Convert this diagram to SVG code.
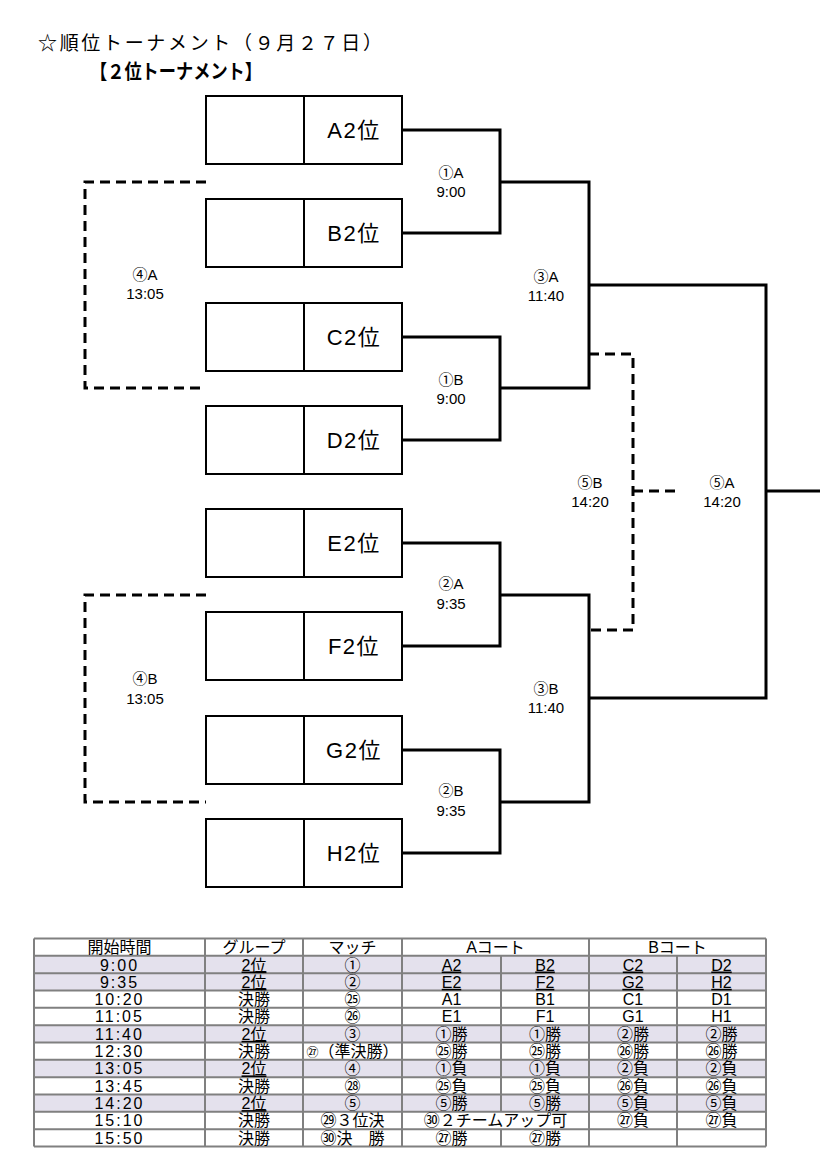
<svg xmlns="http://www.w3.org/2000/svg" width="833" height="1170" viewBox="0 0 833 1170">
<style>
text{font-family:"Liberation Sans","Noto Sans CJK JP",sans-serif;fill:#000}
.title{font-size:19px}
.sub{font-size:20px;font-weight:bold;font-family:"Noto Sans CJK JP",sans-serif}
.box{fill:#fff;stroke:#000;stroke-width:2}
.bl{font-size:22px;text-anchor:middle;letter-spacing:1.5px}
.lab{font-size:15px;text-anchor:middle}
.solid{fill:none;stroke:#000;stroke-width:3}
.dash{fill:none;stroke:#000;stroke-width:3;stroke-dasharray:10 6}
.grid{stroke:#808080;stroke-width:2;fill:none}
.shade{fill:#E4E1ED}
.t{font-size:16px;text-anchor:middle}
.n{letter-spacing:2px}
.u{text-decoration:underline}
</style>
<defs>
<g id="boxshape">
<rect class="box" x="206" y="0" width="196" height="68"/>
<line x1="304" y1="0" x2="304" y2="68" stroke="#000" stroke-width="2"/>
</g>
</defs>

<g id="title">
<text class="title" x="38" y="50" textLength="344" lengthAdjust="spacing">☆順位トーナメント（９月２７日）</text>
<text class="sub" x="90" y="79" textLength="172" lengthAdjust="spacingAndGlyphs">【２位トーナメント】</text>
</g>

<g id="connectors">
<path class="solid" d="M402,130 H500 V233 H402 M500,182 H589 V388 H500 M402,337 H500 V440 H402"/>
<path class="solid" d="M402,543 H500 V646 H402 M500,595 H589 V802 H500 M402,750 H500 V853 H402"/>
<path class="solid" d="M589,285 H766 V698 H589 M766,491 H820"/>
<path class="dash" d="M206,182 H85 V388 H206"/>
<path class="dash" d="M206,595 H85 V802 H206"/>
<path class="dash" d="M589,354 H633 V630 H589"/>
<path class="dash" d="M633,491 H678"/>
</g>

<g id="node-A2"><use href="#boxshape" y="96"/><text class="bl" x="354" y="138">A2位</text></g>
<g id="node-B2"><use href="#boxshape" y="199"/><text class="bl" x="354" y="241">B2位</text></g>
<g id="node-C2"><use href="#boxshape" y="303"/><text class="bl" x="354" y="345">C2位</text></g>
<g id="node-D2"><use href="#boxshape" y="406"/><text class="bl" x="354" y="448">D2位</text></g>
<g id="node-E2"><use href="#boxshape" y="509"/><text class="bl" x="354" y="551">E2位</text></g>
<g id="node-F2"><use href="#boxshape" y="612"/><text class="bl" x="354" y="654">F2位</text></g>
<g id="node-G2"><use href="#boxshape" y="716"/><text class="bl" x="354" y="758">G2位</text></g>
<g id="node-H2"><use href="#boxshape" y="819"/><text class="bl" x="354" y="861">H2位</text></g>

<g id="match-1A"><text class="lab" x="451" y="178">①A</text><text class="lab" x="451" y="197">9:00</text></g>
<g id="match-1B"><text class="lab" x="451" y="385">①B</text><text class="lab" x="451" y="404">9:00</text></g>
<g id="match-3A"><text class="lab" x="546" y="282">③A</text><text class="lab" x="546" y="301">11:40</text></g>
<g id="match-4A"><text class="lab" x="145" y="280">④A</text><text class="lab" x="145" y="299">13:05</text></g>
<g id="match-5B"><text class="lab" x="590" y="488">⑤B</text><text class="lab" x="590" y="507">14:20</text></g>
<g id="match-5A"><text class="lab" x="722" y="488">⑤A</text><text class="lab" x="722" y="507">14:20</text></g>
<g id="match-2A"><text class="lab" x="451" y="589">②A</text><text class="lab" x="451" y="609">9:35</text></g>
<g id="match-3B"><text class="lab" x="546" y="694">③B</text><text class="lab" x="546" y="713">11:40</text></g>
<g id="match-4B"><text class="lab" x="145" y="684">④B</text><text class="lab" x="145" y="704">13:05</text></g>
<g id="match-2B"><text class="lab" x="451" y="796">②B</text><text class="lab" x="451" y="816">9:35</text></g>

<g id="table">
<rect class="shade" x="34" y="955.8" width="732" height="34.7"/>
<rect class="shade" x="34" y="1025.2" width="732" height="17.3"/>
<rect class="shade" x="34" y="1059.8" width="732" height="17.3"/>
<rect class="shade" x="34" y="1094.5" width="732" height="17.3"/>
<path class="grid" d="M34,938.5 H766 M34,955.8 H766 M34,973.2 H766 M34,990.5 H766 M34,1007.8 H766 M34,1025.2 H766 M34,1042.5 H766 M34,1059.8 H766 M34,1077.2 H766 M34,1094.5 H766 M34,1111.8 H766 M34,1129.2 H766 M34,1146.5 H766"/>
<path class="grid" d="M34,938.5 V1146.5 M205,938.5 V1146.5 M303,938.5 V1146.5 M402,938.5 V1146.5 M589,938.5 V1146.5 M766,938.5 V1146.5 M501,955.8 V1111.8 M501,1129.2 V1146.5 M677,955.8 V1146.5"/>

<text class="t" x="119.5" y="953">開始時間</text>
<text class="t" x="254" y="953">グループ</text>
<text class="t" x="352.5" y="953">マッチ</text>
<text class="t" x="495.5" y="953">Aコート</text>
<text class="t" x="677.5" y="953">Bコート</text>

<text class="t n" x="119.5" y="970.5">9:00</text><text class="t u" x="254" y="970.5">2位</text><text class="t" x="352.5" y="970.5">①</text>
<text class="t u" x="451.5" y="970.5">A2</text><text class="t u" x="545" y="970.5">B2</text><text class="t u" x="633" y="970.5">C2</text><text class="t u" x="721.5" y="970.5">D2</text>

<text class="t n" x="119.5" y="987.8">9:35</text><text class="t u" x="254" y="987.8">2位</text><text class="t" x="352.5" y="987.8">②</text>
<text class="t u" x="451.5" y="987.8">E2</text><text class="t u" x="545" y="987.8">F2</text><text class="t u" x="633" y="987.8">G2</text><text class="t u" x="721.5" y="987.8">H2</text>

<text class="t n" x="119.5" y="1005.1">10:20</text><text class="t" x="254" y="1005.1">決勝</text><text class="t" x="352.5" y="1005.1">㉕</text>
<text class="t" x="451.5" y="1005.1">A1</text><text class="t" x="545" y="1005.1">B1</text><text class="t" x="633" y="1005.1">C1</text><text class="t" x="721.5" y="1005.1">D1</text>

<text class="t n" x="119.5" y="1022.4">11:05</text><text class="t" x="254" y="1022.4">決勝</text><text class="t" x="352.5" y="1022.4">㉖</text>
<text class="t" x="451.5" y="1022.4">E1</text><text class="t" x="545" y="1022.4">F1</text><text class="t" x="633" y="1022.4">G1</text><text class="t" x="721.5" y="1022.4">H1</text>

<text class="t n" x="119.5" y="1039.8">11:40</text><text class="t u" x="254" y="1039.8">2位</text><text class="t" x="352.5" y="1039.8">③</text>
<text class="t" x="451.5" y="1039.8">①勝</text><text class="t" x="545" y="1039.8">①勝</text><text class="t" x="633" y="1039.8">②勝</text><text class="t" x="721.5" y="1039.8">②勝</text>

<text class="t n" x="119.5" y="1057.1">12:30</text><text class="t" x="254" y="1057.1">決勝</text><text class="t" x="352.5" y="1057.1"><tspan font-size="12">㉗</tspan>（準決勝）</text>
<text class="t" x="451.5" y="1057.1">㉕勝</text><text class="t" x="545" y="1057.1">㉕勝</text><text class="t" x="633" y="1057.1">㉖勝</text><text class="t" x="721.5" y="1057.1">㉖勝</text>

<text class="t n" x="119.5" y="1074.4">13:05</text><text class="t u" x="254" y="1074.4">2位</text><text class="t" x="352.5" y="1074.4">④</text>
<text class="t" x="451.5" y="1074.4">①負</text><text class="t" x="545" y="1074.4">①負</text><text class="t" x="633" y="1074.4">②負</text><text class="t" x="721.5" y="1074.4">②負</text>

<text class="t n" x="119.5" y="1091.8">13:45</text><text class="t" x="254" y="1091.8">決勝</text><text class="t" x="352.5" y="1091.8">㉘</text>
<text class="t" x="451.5" y="1091.8">㉕負</text><text class="t" x="545" y="1091.8">㉕負</text><text class="t" x="633" y="1091.8">㉖負</text><text class="t" x="721.5" y="1091.8">㉖負</text>

<text class="t n" x="119.5" y="1109.1">14:20</text><text class="t u" x="254" y="1109.1">2位</text><text class="t" x="352.5" y="1109.1">⑤</text>
<text class="t" x="451.5" y="1109.1">⑤勝</text><text class="t" x="545" y="1109.1">⑤勝</text><text class="t" x="633" y="1109.1">⑤負</text><text class="t" x="721.5" y="1109.1">⑤負</text>

<text class="t n" x="119.5" y="1126.4">15:10</text><text class="t" x="254" y="1126.4">決勝</text><text class="t" x="352.5" y="1126.4">㉙３位決</text>
<text class="t" x="495.5" y="1126.4">㉚２チームアップ可</text><text class="t" x="633" y="1126.4">㉗負</text><text class="t" x="721.5" y="1126.4">㉗負</text>

<text class="t n" x="119.5" y="1143.8">15:50</text><text class="t" x="254" y="1143.8">決勝</text><text class="t" x="352.5" y="1143.8">㉚決　勝</text>
<text class="t" x="451.5" y="1143.8">㉗勝</text><text class="t" x="545" y="1143.8">㉗勝</text>
</g>
</svg>
